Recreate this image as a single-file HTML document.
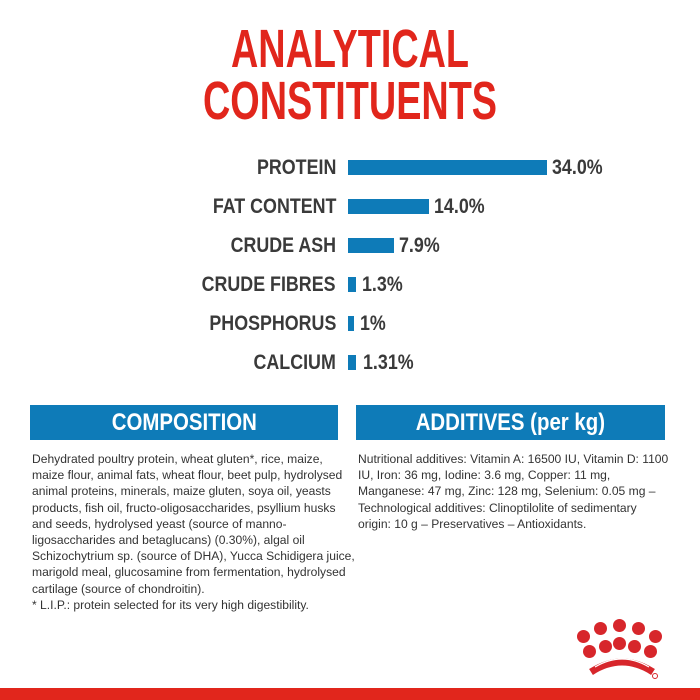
<!DOCTYPE html>
<html><head><style>
body{margin:0;width:700px;height:700px;background:#fff;position:relative;overflow:hidden;font-family:"Liberation Sans Narrow","Liberation Sans",sans-serif;}
.t{position:absolute;left:0;width:700px;text-align:center;color:#e1261c;font-weight:bold;font-size:54px;line-height:54px;}
.t span{display:inline-block;transform:scaleX(0.7);}
.lab{position:absolute;right:364px;font-weight:bold;color:#3a3a3a;font-size:21px;line-height:20px;transform-origin:right;transform:scaleX(0.85);}
.bar{position:absolute;left:348px;height:15px;background:#0e7bb8;}
.val{position:absolute;font-weight:bold;color:#3a3a3a;font-size:21px;line-height:20px;transform-origin:left;transform:scaleX(0.85);}
.hd{position:absolute;top:405px;height:35px;background:#0e7bb8;color:#fff;font-weight:bold;font-size:24px;line-height:35px;text-align:center;}
.hd span{display:inline-block;transform:scaleX(0.85);}
.tx{position:absolute;top:451px;font-family:"Liberation Sans",sans-serif;font-size:12.4px;line-height:16.2px;color:#333;white-space:nowrap;transform-origin:left top;transform:scaleX(0.975);}
.d{position:absolute;width:13px;height:13px;border-radius:50%;background:#d7262b;}
</style></head><body>
<div class="t" style="top:22px"><span>ANALYTICAL</span></div>
<div class="t" style="top:74px"><span>CONSTITUENTS</span></div>

<div class="lab" style="top:158px">PROTEIN</div><div class="bar" style="top:160px;width:199px"></div><div class="val" style="left:552px;top:158px">34.0%</div>
<div class="lab" style="top:197px">FAT CONTENT</div><div class="bar" style="top:199px;width:81px"></div><div class="val" style="left:434px;top:197px">14.0%</div>
<div class="lab" style="top:236px">CRUDE ASH</div><div class="bar" style="top:238px;width:46px"></div><div class="val" style="left:399px;top:236px">7.9%</div>
<div class="lab" style="top:275px">CRUDE FIBRES</div><div class="bar" style="top:277px;width:8px"></div><div class="val" style="left:362px;top:275px">1.3%</div>
<div class="lab" style="top:314px">PHOSPHORUS</div><div class="bar" style="top:316px;width:6px"></div><div class="val" style="left:360px;top:314px">1%</div>
<div class="lab" style="top:353px">CALCIUM</div><div class="bar" style="top:355px;width:8px"></div><div class="val" style="left:363px;top:353px">1.31%</div>

<div class="hd" style="left:30px;width:308px"><span>COMPOSITION</span></div>
<div class="hd" style="left:356px;width:309px"><span>ADDITIVES (per kg)</span></div>

<div class="tx" style="left:32px">Dehydrated poultry protein, wheat gluten*, rice, maize,<br>maize flour, animal fats, wheat flour, beet pulp, hydrolysed<br>animal proteins, minerals, maize gluten, soya oil, yeasts<br>products, fish oil, fructo-oligosaccharides, psyllium husks<br>and seeds, hydrolysed yeast (source of manno-<br>ligosaccharides and betaglucans) (0.30%), algal oil<br>Schizochytrium sp. (source of DHA), Yucca Schidigera juice,<br>marigold meal, glucosamine from fermentation, hydrolysed<br>cartilage (source of chondroitin).<br>* L.I.P.: protein selected for its very high digestibility.</div>
<div class="tx" style="left:358px">Nutritional additives: Vitamin A: 16500 IU, Vitamin D: 1100<br>IU, Iron: 36 mg, Iodine: 3.6 mg, Copper: 11 mg,<br>Manganese: 47 mg, Zinc: 128 mg, Selenium: 0.05 mg –<br>Technological additives: Clinoptilolite of sedimentary<br>origin: 10 g – Preservatives – Antioxidants.</div>

<div class="d" style="left:577px;top:630px"></div>
<div class="d" style="left:594px;top:622px"></div>
<div class="d" style="left:613px;top:619px"></div>
<div class="d" style="left:632px;top:622px"></div>
<div class="d" style="left:649px;top:630px"></div>
<div class="d" style="left:583px;top:645px"></div>
<div class="d" style="left:599px;top:640px"></div>
<div class="d" style="left:613px;top:637px"></div>
<div class="d" style="left:628px;top:640px"></div>
<div class="d" style="left:644px;top:645px"></div>
<svg style="position:absolute;left:585px;top:650px" width="75" height="30"><path d="M6 22 Q37 2 68 22" stroke="#d7262b" stroke-width="7" fill="none"/><path d="M10 17 Q37 1 64 17" stroke="#fff" stroke-width="1.2" fill="none"/><circle cx="70" cy="26" r="2.5" fill="none" stroke="#d7262b" stroke-width="1"/></svg>
<div style="position:absolute;left:0;top:688px;width:700px;height:12px;background:#e1261c"></div>
</body></html>
